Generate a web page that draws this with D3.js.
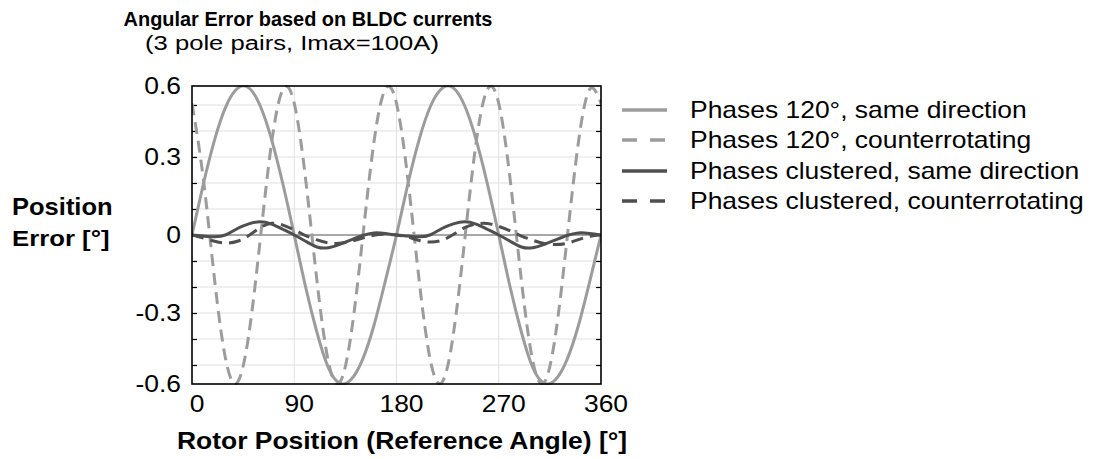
<!DOCTYPE html>
<html>
<head>
<meta charset="utf-8">
<script src="https://cdn.jsdelivr.net/npm/d3@7"></script>
<style>
body{margin:0;background:#fff}
svg text{font-family:"Liberation Sans",Arial,sans-serif;fill:#000}
</style>
</head>
<body>
<svg id="mySVG" width="1093" height="459"></svg>
<script>
//---data, x = rotor angle [deg], y = error [deg]---
var angles=[0,10,20,30,40,50,60,70,80,90,100,110,120,130,140,150,160,170,180,
            190,200,210,220,230,240,250,260,270,280,290,300,310,320,330,340,350,360]

var sameDir120=[0,0.196,0.368,0.496,0.564,0.566,0.497,0.368,0.196,0,-0.2,-0.375,-0.51,-0.57,-0.556,-0.48,-0.35,-0.18,0,
                0.196,0.368,0.496,0.564,0.566,0.497,0.368,0.196,0,-0.2,-0.375,-0.51,-0.57,-0.556,-0.48,-0.35,-0.18,0]
var counter120=[0.506,0.215,-0.177,-0.486,-0.567,-0.383,-0.02,0.353,0.56,0.506,0.215,-0.177,-0.486,-0.567,-0.383,-0.02,0.353,0.56,0.506,
                0.215,-0.177,-0.486,-0.567,-0.383,-0.02,0.353,0.56,0.506,0.215,-0.177,-0.486,-0.567,-0.383,-0.02,0.353,0.56,0.506]
var sameDirClust=[0,-0.004,-0.007,0.001,0.025,0.043,0.051,0.042,0.022,0,-0.024,-0.046,-0.049,-0.036,-0.019,-0.002,0.008,0.006,0,
                  -0.004,-0.007,0.001,0.025,0.043,0.051,0.042,0.022,0,-0.024,-0.046,-0.049,-0.036,-0.019,-0.002,0.008,0.006,0]
var counterClust=[0,-0.012,-0.024,-0.031,-0.024,-0.002,0.028,0.045,0.038,0.02,-0.002,-0.019,-0.03,-0.032,-0.024,-0.012,-0.001,0.003,0,
                  -0.008,-0.021,-0.027,-0.02,0.002,0.028,0.042,0.044,0.033,0.016,-0.004,-0.02,-0.033,-0.037,-0.032,-0.018,-0.005,0]

var seriesNames=["Phases 120°, same direction","Phases 120°, counterrotating",
                 "Phases clustered, same direction","Phases clustered, counterrotating"]

var xTicks=[0,90,180,270,360]
var yTickValues=[-0.573,-0.3,0,0.3,0.573]
var yTickLabels=["-0.6","-0.3","0","0.3","0.6"]
var yGrid=[-0.5,-0.4,-0.3,-0.2,-0.1,0.1,0.2,0.3,0.4,0.5]
var yMax=0.573

//---layout---
var L=192, R=601, T=86, B=384
var lightGray="#9c9c9c", darkGray="#4f4f4f"

var svg=d3.select("#mySVG")
var x=d3.scaleLinear().domain([0,360]).range([L,R])
var y=d3.scaleLinear().domain([-yMax,yMax]).range([B,T])

//---text helper (the original font is drawn wider than normal)---
function addText(px,py,str,anchor,bold,fs,sx)
{
    return svg.append("text")
    .attr("transform","translate("+px+","+py+") scale("+sx+",1)")
    .attr("text-anchor",anchor)
    .attr("font-size",fs)
    .attr("font-weight",bold?"bold":"normal")
    .text(str)
}

//---grid---
svg.append("g").selectAll("line").data(yGrid).enter().append("line")
.attr("x1",L).attr("x2",R)
.attr("y1",function(d){return y(d)}).attr("y2",function(d){return y(d)})
.attr("stroke","#e0e0e0").attr("stroke-width",1)

svg.append("g").selectAll("line").data(xTicks.slice(1,4)).enter().append("line")
.attr("y1",T).attr("y2",B)
.attr("x1",function(d){return x(d)}).attr("x2",function(d){return x(d)})
.attr("stroke","#e0e0e0").attr("stroke-width",1)

//---inner tick marks left and right---
var tickL=d3.axisRight(y).tickValues(yGrid).tickSize(5).tickFormat("")
svg.append("g").attr("transform","translate("+L+",0)").call(tickL)
var tickR=d3.axisLeft(y).tickValues(yGrid).tickSize(5).tickFormat("")
svg.append("g").attr("transform","translate("+R+",0)").call(tickR)
svg.selectAll(".domain").remove()
svg.selectAll(".tick line").attr("stroke","#000").attr("stroke-width",1.2)

//---zero line---
svg.append("line").attr("x1",L).attr("x2",R).attr("y1",y(0)).attr("y2",y(0))
.attr("stroke","#a8a8a8").attr("stroke-width",2)

//---curves---
svg.append("clipPath").attr("id","plotClip").append("rect")
.attr("x",L).attr("y",T-1).attr("width",R-L).attr("height",B-T+2)

var line=d3.line().curve(d3.curveNatural)
.x(function(d){return x(d[0])}).y(function(d){return y(d[1])})

var series=[
    {vals:sameDir120, color:lightGray, dash:null},
    {vals:counter120, color:lightGray, dash:"12,7"},
    {vals:sameDirClust, color:darkGray, dash:null},
    {vals:counterClust, color:darkGray, dash:"12,7"}
]
var curveG=svg.append("g").attr("clip-path","url(#plotClip)")
series.forEach(function(s)
{
    curveG.append("path")
    .attr("d",line(d3.zip(angles,s.vals)))
    .attr("fill","none")
    .attr("stroke",s.color)
    .attr("stroke-width",3)
    .attr("stroke-dasharray",s.dash)
})

//---plot frame---
svg.append("rect").attr("x",L).attr("y",T).attr("width",R-L).attr("height",B-T)
.attr("fill","none").attr("stroke","#000").attr("stroke-width",1.6)

//---tick labels---
xTicks.forEach(function(d){ addText(x(d)+5,412,String(d),"middle",false,23,1.15) })
yTickValues.forEach(function(d,i){ addText(181,y(d)+8,yTickLabels[i],"end",false,23,1.15) })

//---titles---
addText(308,26,"Angular Error based on BLDC currents","middle",true,21,0.95)
addText(292,50,"(3 pole pairs, Imax=100A)","middle",false,21,1.22)
addText(402,449,"Rotor Position (Reference Angle) [°]","middle",true,23,1.15)
addText(12,215,"Position","start",true,23,1.11)
addText(12,246,"Error [°]","start",true,23,1.12)

//---legend---
var legY=[110,140,171,201]
series.forEach(function(s,i)
{
    svg.append("line")
    .attr("x1",622).attr("x2",667)
    .attr("y1",legY[i]).attr("y2",legY[i])
    .attr("stroke",s.color)
    .attr("stroke-width",3.5)
    .attr("stroke-dasharray",s.dash?"15,13":null)
    addText(690,legY[i]+8,seriesNames[i],"start",false,23,1.15)
})
</script>
</body>
</html>
